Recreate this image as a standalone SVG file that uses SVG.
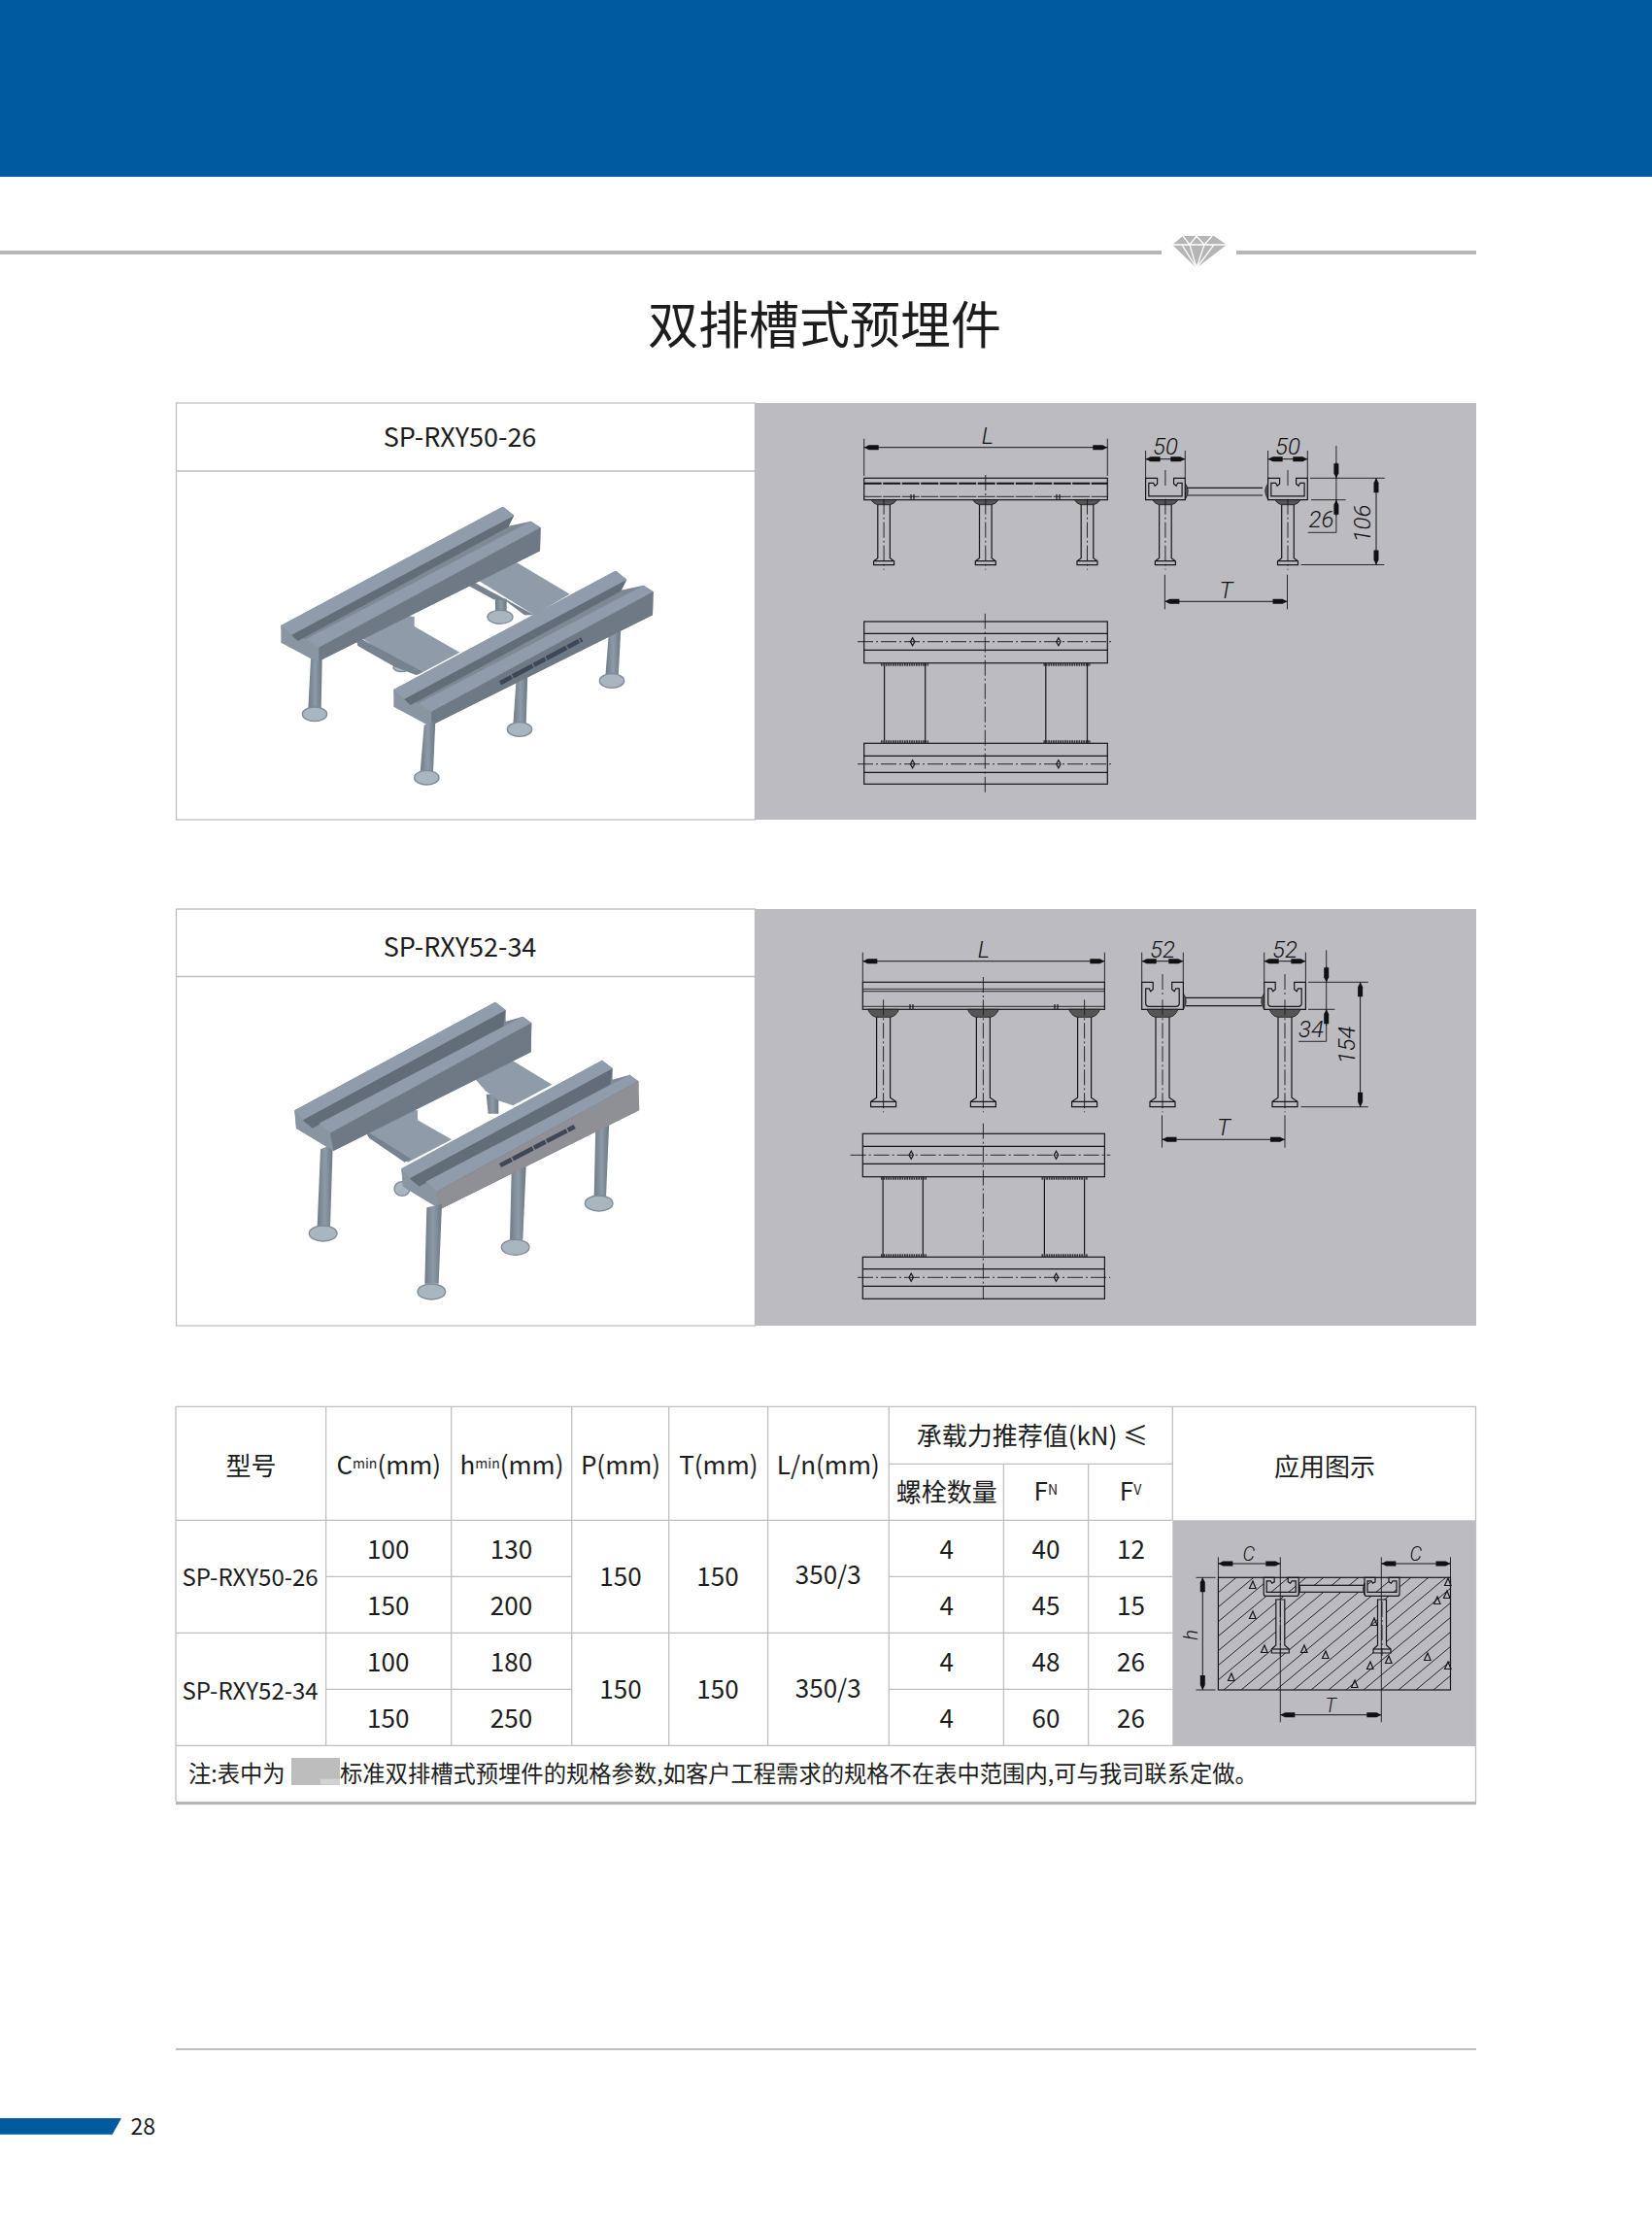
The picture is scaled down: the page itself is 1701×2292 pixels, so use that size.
<svg xmlns="http://www.w3.org/2000/svg" width="1701" height="2292" viewBox="0 0 1701 2292">
<style>
text{font-family:"Noto Sans CJK SC","Noto Sans",sans-serif;fill:#1c1c1c}
.c{text-anchor:middle;dominant-baseline:central;transform:translateY(-2px)}
.h{font-size:26px}
.s{font-size:14px}
.n{font-size:23.3px;dominant-baseline:central;transform:translateY(-1.5px)}
.dt{font-family:Roboto,"Liberation Sans",sans-serif;font-style:italic;font-weight:300;font-size:24px;text-anchor:middle;fill:#111}
.dc{font-size:20px}
.l{stroke:#161616;stroke-width:1.2;fill:none}
.b{stroke:#161616;stroke-width:1.2;fill:#bcbbc0}
.k{stroke:#161616;stroke-width:.8;fill:#555}
.e{stroke:#161616;stroke-width:.9;fill:none}
.cl{stroke:#161616;stroke-width:.9;fill:none;stroke-dasharray:16 3 2 3}
.d{stroke:#161616;stroke-width:1;fill:none;marker-start:url(#ar);marker-end:url(#ar)}
.w{stroke:#333;stroke-width:3;fill:none;stroke-dasharray:1.6 .8}
.g{stroke:#bfbfbf;stroke-width:1.3;fill:none}
.p{fill:#bcbbc0}
.ba{fill:#7e8995}
.fl{fill:#909cab}
.sl{fill:#636d79}
.sd{fill:#6f7985}
.en{fill:#8a95a2}
.pl{fill:#8f9ba8}
.ps{fill:#76828f}
.st{fill:url(#gs)}
.ft{fill:#a9b5bf;stroke:#7f8c98;stroke-width:4}
</style>
<defs>
<linearGradient id="gs" x1="0" x2="1" y1="0" y2="0"><stop offset="0" stop-color="#6f7c88"/><stop offset=".5" stop-color="#8e9ba6"/><stop offset="1" stop-color="#6b7783"/></linearGradient>
<marker id="ar" markerUnits="userSpaceOnUse" markerWidth="18" markerHeight="7" viewBox="0 -3.5 18 7" refX="16" refY="0" orient="auto-start-reverse"><path d="M16 0L11 -2.5H1V2.5H11Z" fill="#111"/></marker>
<pattern id="ha" patternUnits="userSpaceOnUse" width="18" height="15"><path d="M-3 17.5L21 -2.5" stroke="#222" stroke-width="1" fill="none"/><path d="M-3 2.5L3 -2.5M15 17.5L21 12.5" stroke="#222" stroke-width="1" fill="none"/></pattern>
<g id="a1"><path class="k" d="M-13 0Q-11 4 -6.5 5H6.5Q11 4 13 0Z"/><path class="l" d="M-6.3 5V60L-10.5 63V67H10.5V63L6.3 60V5M-10.5 63H10.5"/><path class="cl" d="M0 -1V72"/></g>
<g id="a2"><path class="k" d="M-16 0Q-13 7 -7.5 8H7.5Q13 7 16 0Z"/><path class="l" d="M-7 8V91L-13 95V100.4H13V95L7 91V8M-13 95H13"/><path class="cl" d="M0 -10V106"/></g>
<g id="a3"><path class="b" d="M-4.5 0V47L-9 51V55H9V51L4.5 47V0Z"/><path class="l" d="M-9 51H9"/><path class="cl" d="M0 2V58"/></g>
<path id="c1" class="l" d="M0 0V22.4H40.7V0H29V6L31.5 8L33 5H37.5V18.5H3.2V5H8L9.5 8L12 6V0Z"/>
<path id="c2" class="l" d="M0 0V28H42.7V0H31V7.5L33.5 9.5L35 6.5H38.5V22Q38.5 25 35 25H7.5Q4 25 4 22V6.5H7.5L9 9.5L11.5 7.5V0Z"/>
<path id="c3" class="b" d="M0 0V17Q0 19 2 19H34Q36 19 36 17V0H25V4.5L27.5 6L29 3.5H33V15H3V3.5H7L8.5 6L11 4.5V0Z"/>
<path id="h1" class="l" d="M-2.2 0L0 -4L2.2 0L0 4Z"/>
<path id="tr" class="l" stroke-width=".9" d="M0 -4L3 3.5H-3.5Z"/>
</defs>

<g id="header"><rect width="1701" height="182" fill="#005aa0"/></g>
<g id="rule">
<rect x="0" y="258" width="1196" height="4" fill="#b5b5b5"/>
<rect x="1273" y="258" width="247" height="4" fill="#b5b5b5"/>
<path d="M1207 252L1218 243H1250L1263 252L1232 276Z" fill="#b5b5b5"/>
<path d="M1207 252H1263M1217 252L1232 276M1225 252L1232 276M1240 252L1232 276M1250 252L1232 276M1218 243L1225 252L1232 243L1240 252L1248 243" stroke="#fff" stroke-width="1.3" fill="none"/>
</g>
<text id="title" class="c" x="849" y="333" font-size="52">双排槽式预埋件</text>

<g id="panel1">
<rect class="g" x="181.5" y="415" width="596" height="429"/>
<path class="g" d="M181 485H777"/>
<rect class="p" x="777" y="415" width="743" height="429"/>
<text class="c" x="473.5" y="450" font-size="27">SP-RXY50-26</text>
</g>
<g id="model1" transform="translate(260 490) scale(.33333)">
<path class="st" d="M750 375L785 380V420H750Z"/><ellipse class="ft" cx="765" cy="436" rx="39" ry="21"/>
<path class="pl" d="M660 300L770 240L980 365L870 430Z"/><path class="ps" d="M660 315V335L745 382L780 385L840 430L870 430Z"/>
<ellipse class="ft" cx="460" cy="592" rx="25" ry="13"/>
<path class="pl" d="M320 490L430 425L500 435V465L640 545L510 615Z"/><path class="ps" d="M320 500L325 525L440 590L505 615L525 605L330 500Z"/>
<path class="st" d="M180 565L215 565L212 720H172Z"/><ellipse class="ft" cx="192" cy="736" rx="38" ry="22"/>
<path class="st" d="M815 625L850 610L845 770H805Z"/><ellipse class="ft" cx="825" cy="783" rx="38" ry="22"/>
<path class="st" d="M1100 490L1138 470L1130 620H1090Z"/><ellipse class="ft" cx="1110" cy="633" rx="38" ry="22"/>
<g id="r1"><path class="ba" d="M88 462L775 95L808 122L790 155L860 140L890 160L888 232L205 572H195L95 515Z"/><path class="en" d="M88 462V515L195 572H205V520L165 505L118 490Z"/><path class="sl" d="M118 490L808 122L790 158L140 510Z"/><path class="fl" d="M88 462L772 95L808 122L120 492Z"/><path class="fl" d="M165 505L860 140L890 160L205 530Z"/><path class="sd" d="M205 530L890 160L888 232L205 572Z"/></g>
<use href="#r1" x="348" y="198"/>
<path d="M765 640L1018 505" stroke="#3e4658" stroke-width="14" stroke-dasharray="40 4 70 4" fill="none"/>
<path class="st" d="M530 770L565 755L558 915H518Z"/><ellipse class="ft" cx="538" cy="932" rx="38" ry="22"/>
</g>
<g id="drawing1">
<rect class="l" x="889.7" y="492.3" width="250.6" height="22.4"/>
<path d="M889.7 497.7H1140.3" stroke="#111" stroke-width="2" stroke-dasharray="18 1.5" fill="none"/>
<path class="e" d="M889.7 511.3H1140.3" stroke-dasharray="18 1.5"/>
<path class="cl" d="M1014.8 489V512"/>
<path class="l" d="M938 509V514M941 509V514M1088 509V514M1091 509V514"/>
<use href="#a1" x="910.1" y="514.7"/><use href="#a1" x="1014.8" y="514.7"/><use href="#a1" x="1119.5" y="514.7"/>
<path class="d" d="M889.7 460.7H1140.3"/><path class="e" d="M889.7 451.7V490M1140.3 451.7V490"/>
<text class="dt" x="1017" y="457">L</text>
<use href="#c1" x="1179.6" y="492.3"/><use href="#c1" x="1305.6" y="492.3"/>
<path class="l" d="M1222 502.3H1300M1222 510H1300"/>
<path class="k" d="M1220.5 498Q1226 505 1220.5 514ZM1305.5 498Q1300 505 1305.5 514Z"/>
<path class="cl" d="M1199.9 484V500M1326 484V500"/>
<use href="#a1" x="1199.9" y="514.7"/><use href="#a1" x="1326" y="514.7"/>
<path class="d" d="M1179.6 472.7H1220.3"/><path class="d" d="M1305.6 472.7H1346.3"/>
<path class="e" d="M1179.6 464V492M1220.3 464V492M1305.6 464V492M1346.3 464V492"/>
<text class="dt" x="1200" y="468">50</text><text class="dt" x="1326" y="468">50</text>
<path class="e" d="M1349 492.3H1425.8M1350 514.7H1385.6M1375.9 459V548.3H1346.8M1339.5 581.5H1425.3"/>
<path d="M1375.9 476V492.3" class="e" marker-end="url(#ar)"/><path d="M1375.9 531V514.7" class="e" marker-end="url(#ar)"/>
<text class="dt" x="1360.4" y="543">26</text>
<path class="d" d="M1417 492.3V581.5"/>
<text class="dt" transform="translate(1411 539) rotate(-90)">106</text>
<path class="d" d="M1199.4 619.3H1325.5"/><path class="e" d="M1199.4 591.7V627.3M1325.5 591.7V627.3"/>
<text class="dt" x="1262.5" y="615.7">T</text>
<rect class="l" x="889.7" y="640" width="250.6" height="42.7"/><path class="l" d="M889.7 652.3H1140.3M889.7 669.3H1140.3"/>
<path class="cl" d="M883 660.7H1146.1"/>
<use href="#h1" x="939.6" y="660.7"/><use href="#h1" x="1089.9" y="660.7"/>
<rect class="l" x="889.7" y="765.3" width="250.6" height="42"/><path class="l" d="M889.7 778.3H1140.3M889.7 795.3H1140.3"/>
<path class="cl" d="M883 786.7H1146.1"/>
<use href="#h1" x="939.6" y="786.7"/><use href="#h1" x="1089.9" y="786.7"/>
<path class="cl" d="M1014.3 631.7V818.3"/>
<path class="l" d="M910.6 682.7V765.3M952.7 682.7V765.3M1076.8 682.7V765.3M1119.5 682.7V765.3"/>
<path class="w" d="M907 684.2H956M1074.5 684.2H1123M907 763.8H956M1074.5 763.8H1123"/>
</g>

<g id="panel2">
<rect class="g" x="181.5" y="936" width="596" height="429"/>
<path class="g" d="M181 1005.5H777"/>
<rect class="p" x="777" y="936" width="743" height="429"/>
<text class="c" x="473.5" y="975" font-size="27">SP-RXY52-34</text>
</g>
<g id="model2" transform="translate(280 1010) scale(.33333)">
<path class="st" d="M662 350L700 350V410H668Z"/>
<path class="pl" d="M598 270L700 220L865 320L745 385L700 370L660 340Z"/>
<ellipse class="ft" cx="402" cy="642" rx="24" ry="22"/>
<path class="pl" d="M285 460L385 395L450 400V430L555 490L420 560Z"/><path class="ps" d="M285 460L300 485L410 560L430 550Z"/>
<path class="st" d="M150 520L188 505L180 760H140Z"/><ellipse class="ft" cx="158" cy="780" rx="43" ry="24"/>
<path class="st" d="M740 590L785 570L775 800H735Z"/><ellipse class="ft" cx="752" cy="823" rx="43" ry="24"/>
<path class="st" d="M1000 440L1042 430L1032 670H995Z"/><ellipse class="ft" cx="1010" cy="687" rx="43" ry="24"/>
<g id="r2"><path class="ba" d="M70 400L690 65L722 90L722 125L775 110L802 130L800 220L190 525L75 455Z"/><path class="en" d="M70 400L75 455L190 525V470L145 440L95 430Z"/><path class="sl" d="M95 430L722 90L715 140L125 455Z"/><path class="fl" d="M70 400L690 65L722 90L95 430Z"/><path class="fl" d="M145 440L775 110L802 130L180 470Z"/><path class="sd" d="M180 470L802 130L800 220L190 525Z"/></g>
<use href="#r2" x="330" y="180"/>
<path d="M510 650L1132 310L1135 400L520 705Z" fill="#8f9095"/>
<path d="M705 570L935 450" stroke="#3e4658" stroke-width="14" stroke-dasharray="40 4 70 4" fill="none"/>
<path class="st" d="M478 700L525 690L515 935H472Z"/><ellipse class="ft" cx="493" cy="960" rx="43" ry="24"/>
</g>
<g id="drawing2">
<rect class="l" x="888.3" y="1011.3" width="249.1" height="28"/>
<path class="e" d="M888.3 1018.3H1137.4M888.3 1020.7H1137.4M888.3 1036.3H1137.4"/>
<path class="cl" d="M1012.4 1006V1030"/>
<path class="l" d="M937 1034V1039M940 1034V1039M1086 1034V1039M1089 1034V1039"/>
<use href="#a2" x="909.6" y="1039.3"/><use href="#a2" x="1012.4" y="1039.3"/><use href="#a2" x="1116.6" y="1039.3"/>
<path class="d" d="M888.3 989.7H1137.4"/><path class="e" d="M888.3 980.7V1011M1137.4 980.7V1011"/>
<text class="dt" x="1013" y="986">L</text>
<use href="#c2" x="1175.7" y="1011.3"/><use href="#c2" x="1301.7" y="1011.3"/>
<path class="l" d="M1221 1027.3H1299M1221 1035.7H1299"/>
<path class="k" d="M1218.5 1023Q1224 1031 1218.5 1039ZM1301.5 1023Q1296 1031 1301.5 1039Z"/>
<path class="cl" d="M1197 1003V1026M1323 1003V1026"/>
<use href="#a2" x="1197" y="1039.3"/><use href="#a2" x="1323" y="1039.3"/>
<path class="d" d="M1175.7 989.7H1218.3"/><path class="d" d="M1301.7 989.7H1344.4"/>
<path class="e" d="M1175.7 980.7V1011M1218.3 980.7V1011M1301.7 980.7V1011M1344.4 980.7V1011"/>
<text class="dt" x="1197" y="986">52</text><text class="dt" x="1323" y="986">52</text>
<path class="e" d="M1347 1011.3H1408.8M1347 1039.3H1374.4M1365.7 978.3V1072.3H1337.1M1339.5 1139.7H1408.8"/>
<path d="M1365.7 995V1011.3" class="e" marker-end="url(#ar)"/><path d="M1365.7 1056V1039.3" class="e" marker-end="url(#ar)"/>
<text class="dt" x="1350" y="1068.3">34</text>
<path class="d" d="M1400.6 1011.3V1139.7"/>
<text class="dt" transform="translate(1395 1076) rotate(-90)">154</text>
<path class="d" d="M1196.5 1173.3H1323"/><path class="e" d="M1196.5 1148.3V1181.7M1323 1148.3V1181.7"/>
<text class="dt" x="1260" y="1169.3">T</text>
<rect class="l" x="888.3" y="1167.3" width="249.1" height="44.4"/><path class="l" d="M888.3 1180.3H1137.4M888.3 1198.3H1137.4"/>
<path class="cl" d="M875.7 1189.3H1143.2"/>
<use href="#h1" x="938.2" y="1189.3"/><use href="#h1" x="1087.5" y="1189.3"/>
<rect class="l" x="888.3" y="1294.3" width="249.1" height="43"/><path class="l" d="M888.3 1306.7H1137.4M888.3 1324.3H1137.4"/>
<path class="cl" d="M883 1315.3H1143.2"/>
<use href="#h1" x="938.2" y="1315.3"/><use href="#h1" x="1087.5" y="1315.3"/>
<path class="cl" d="M1012.4 1156.7V1337.3"/>
<path class="l" d="M909.1 1211.7V1294.3M950.3 1211.7V1294.3M1075.4 1211.7V1294.3M1116.6 1211.7V1294.3"/>
<path class="w" d="M907 1213.2H954M1072.5 1213.2H1120M907 1292.8H954M1072.5 1292.8H1120"/>
</g>

<g id="table">
<rect class="p" x="1207.3" y="1565.3" width="312.2" height="232"/>
<path class="g" d="M181 1448.3H1519.5V1855M181 1448.3V1855M181 1565.3H1207.3M335.6 1623.3H588.7M915.3 1623.3H1207.3M181 1681.3H1207.3M335.6 1739.3H588.7M915.3 1739.3H1207.3M181 1797.3H1519.5M915.3 1507.3H1207.3M335.6 1448.3V1797.3M464.7 1448.3V1797.3M588.7 1448.3V1797.3M688.7 1448.3V1797.3M790.6 1448.3V1797.3M915.3 1448.3V1797.3M1033.4 1507.3V1797.3M1120.6 1507.3V1797.3M1207.3 1448.3V1565.3"/>
<rect x="181" y="1855" width="1339" height="3.2" fill="#b5b5b5"/>
<text class="c h" x="258.5" y="1509">型号</text>
<text class="c h" x="400.3" y="1508">C<tspan class="s">min</tspan>(mm)</text>
<text class="c h" x="527" y="1508">h<tspan class="s">min</tspan>(mm)</text>
<text class="c h" x="639" y="1508">P(mm)</text>
<text class="c h" x="739.9" y="1508">T(mm)</text>
<text class="c h" x="852.8" y="1508">L/n(mm)</text>
<text class="c h" x="1063" y="1478">承载力推荐值(kN) ≤</text>
<text class="c h" x="1364" y="1510">应用图示</text>
<text class="c h" x="974.7" y="1536">螺栓数量</text>
<text class="c h" x="1076.8" y="1535">F<tspan class="s">N</tspan></text>
<text class="c h" x="1164" y="1535">F<tspan class="s">V</tspan></text>
<text class="c" font-size="24" x="257.6" y="1624.3">SP-RXY50-26</text>
<text class="c" font-size="24" x="257.6" y="1741.7">SP-RXY52-34</text>
<g class="h">
<text class="c" x="399.7" y="1595">100</text><text class="c" x="526.5" y="1595">130</text><text class="c" x="974.7" y="1595">4</text><text class="c" x="1077" y="1595">40</text><text class="c" x="1164.4" y="1595">12</text>
<text class="c" x="399.7" y="1653">150</text><text class="c" x="526.5" y="1653">200</text><text class="c" x="974.7" y="1653">4</text><text class="c" x="1077" y="1653">45</text><text class="c" x="1164.4" y="1653">15</text>
<text class="c" x="399.7" y="1711">100</text><text class="c" x="526.5" y="1711">180</text><text class="c" x="974.7" y="1711">4</text><text class="c" x="1077" y="1711">48</text><text class="c" x="1164.4" y="1711">26</text>
<text class="c" x="399.7" y="1769">150</text><text class="c" x="526.5" y="1769">250</text><text class="c" x="974.7" y="1769">4</text><text class="c" x="1077" y="1769">60</text><text class="c" x="1164.4" y="1769">26</text>
<text class="c" x="639" y="1623.3">150</text><text class="c" x="739" y="1623.3">150</text><text class="c" x="852.8" y="1621.7">350/3</text>
<text class="c" x="639" y="1739.3">150</text><text class="c" x="739" y="1739.3">150</text><text class="c" x="852.8" y="1738">350/3</text>
</g>
<text class="n" x="194" y="1826">注:表中为</text>
<rect x="300" y="1810" width="50" height="28" fill="#bdbdbd"/><rect x="330" y="1831.7" width="20" height="6" fill="#d2d2d2"/>
<text class="n" x="350" y="1826">标准双排槽式预埋件的规格参数,如客户工程需求的规格不在表中范围内,可与我司联系定做。</text>
</g>

<g id="application">
<rect x="1254.4" y="1624.3" width="239.1" height="115.7" fill="url(#ha)" stroke="#161616" stroke-width="1.2"/>
<use href="#c3" x="1301.2" y="1624.3"/><use href="#c3" x="1405" y="1624.3"/>
<rect class="b" x="1338" y="1632.3" width="66.5" height="7"/>
<path class="k" d="M1337.5 1630Q1340 1636 1337.5 1642ZM1405 1630Q1402 1636 1405 1642Z"/>
<use href="#a3" x="1318.3" y="1647"/><use href="#a3" x="1423" y="1647"/>
<use href="#tr" x="1290" y="1632"/><use href="#tr" x="1290" y="1663"/><use href="#tr" x="1302" y="1698"/><use href="#tr" x="1268" y="1727"/><use href="#tr" x="1343" y="1698"/><use href="#tr" x="1365" y="1704"/><use href="#tr" x="1411" y="1715"/><use href="#tr" x="1395" y="1734"/><use href="#tr" x="1430" y="1709"/><use href="#tr" x="1470" y="1706"/><use href="#tr" x="1480" y="1648"/><use href="#tr" x="1491" y="1629"/><use href="#tr" x="1490" y="1642"/><use href="#tr" x="1491" y="1715"/><use href="#tr" x="1415" y="1670"/>
<path class="d" d="M1254.4 1610H1318.3"/><path class="d" d="M1422.3 1610H1493.5"/>
<path class="d" d="M1318.3 1765.7H1422.3"/>
<path class="e" d="M1254.4 1603.3V1624M1493.5 1603.3V1624M1318.3 1603.3V1773.3M1422.3 1603.3V1773.3"/>
<path class="d" d="M1238.3 1624.3V1740"/><path class="e" d="M1231.5 1624.3H1251.6M1231.5 1740H1251.6"/>
<text class="dt dc" x="1285.7" y="1606.7">C</text>
<text class="dt dc" x="1457.7" y="1606.7">C</text>
<text class="dt dc" x="1370" y="1763.3">T</text>
<text class="dt dc" transform="translate(1233 1683.3) rotate(-90)">h</text>
</g>

<g id="footer">
<rect x="181" y="2109" width="1339" height="2" fill="#bfbfbf"/>
<path d="M0 2181H125L115.7 2197.7H0Z" fill="#005aa0"/>
<text x="134.5" y="2197.7" font-size="23">28</text>
</g>
</svg>
